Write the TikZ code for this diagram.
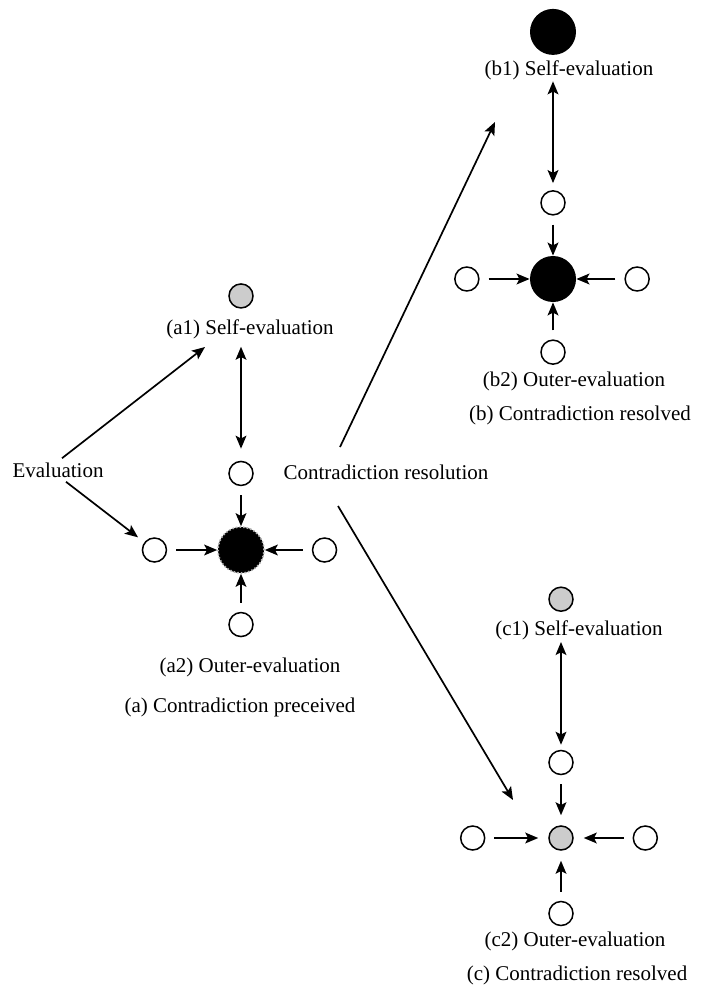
\documentclass[tikz,border=0pt]{standalone}
\usepackage{fontspec}
\setmainfont{Liberation Serif}
\usetikzlibrary{positioning, arrows.meta}

\begin{document}
\begin{tikzpicture}[
  x=0.5pt, y=-0.5pt,
  font=\fontsize{10.5}{12}\selectfont,
  sc/.style={circle, draw, line width=0.75pt, fill=white, minimum size=12pt, inner sep=0pt},
  gc/.style={sc, fill=gray!40},
  bc/.style={circle, fill=black, minimum size=23pt, inner sep=0pt},
  lbl/.style={inner sep=0pt},
  tip/.style={-{Stealth[length=6.5pt, width=5.4pt, inset=1.4pt]}, line width=0.85pt},
  arr/.style={tip, shorten <=4.5pt},
  arr2/.style={{Stealth[length=6.5pt, width=5.4pt, inset=1.4pt]}-{Stealth[length=6.5pt, width=5.4pt, inset=1.4pt]}, line width=0.85pt}
]
\useasboundingbox (0,0) rectangle (707,990);

% (a) contradiction preceived
\node[bc, draw=gray!60, densely dotted, line width=0.8pt] (aC) at (241,550) {};
\node[sc, above=20pt of aC] (aT) {};
\node[sc, left=25pt of aC] (aL) {};
\node[sc, right=23.5pt of aC] (aR) {};
\node[sc, below=19pt of aC] (aB) {};
\node[gc, above=76pt of aT] (aTop) {};
\node[lbl, below=5.5pt of aTop, xshift=4.5pt] (a1lbl) {(a1) Self-evaluation};
\node[lbl, below=10pt of aB, xshift=4.5pt] (a2lbl) {(a2) Outer-evaluation};
\node[lbl, below=10pt of a2lbl, xshift=-5pt] (alab) {(a) Contradiction preceived};

% (b) contradiction resolved
\node[bc] (bC) at (553,279) {};
\node[sc, above=20pt of bC] (bT) {};
\node[sc, left=25pt of bC] (bL) {};
\node[sc, right=24pt of bC] (bR) {};
\node[sc, below=18.5pt of bC] (bB) {};
\node[bc, above=67.4pt of bT] (bTop) {};
\node[lbl, below=2.5pt of bTop, xshift=8pt] (b1lbl) {(b1) Self-evaluation};
\node[lbl, below=3.5pt of bB, xshift=10.5pt] (b2lbl) {(b2) Outer-evaluation};
\node[lbl, below=7pt of b2lbl, xshift=3pt] (blab) {(b) Contradiction resolved};

% (c) contradiction resolved
\node[gc] (cC) at (561,838) {};
\node[sc, above=25pt of cC] (cT) {};
\node[sc, left=31.4pt of cC] (cL) {};
\node[sc, right=29.4pt of cC] (cR) {};
\node[sc, below=25pt of cC] (cB) {};
\node[gc, above=68.9pt of cT] (cTop) {};
\node[lbl, below=4pt of cTop, xshift=9pt] (c1lbl) {(c1) Self-evaluation};
\node[lbl, below=2.5pt of cB, xshift=7pt] (c2lbl) {(c2) Outer-evaluation};
\node[lbl, below=7pt of c2lbl, xshift=1pt] (clab) {(c) Contradiction resolved};

% left and middle texts
\node[inner sep=2pt] (eval) at (58,470) {Evaluation};
\node[inner sep=2pt] (cr) at (386,472) {Contradiction resolution};
\coordinate (aIn) at (205,347);
\coordinate (crUp) at (340,447);
\coordinate (crDn) at (338,506);
\coordinate (bIn) at (495,122);
\coordinate (cIn) at (513,800);

\draw[tip] ([xshift=2pt]eval.north) -- (aIn);
\draw[tip, shorten >=4pt] ([xshift=4pt]eval.south) -- (aL);
\draw[tip] (crUp) -- (bIn);
\draw[tip] (crDn) -- (cIn);

\draw[arr2, shorten <=3.5pt, shorten >=6pt] (a1lbl.south -| aT) -- (aT);
\draw[arr] (aT) -- (aC);
\draw[arr] (aL) -- (aC);
\draw[arr] (aR) -- (aC);
\draw[arr] (aB) -- (aC);

\draw[arr2, shorten <=0.5pt, shorten >=3.5pt] (b1lbl.south -| bT) -- (bT);
\draw[arr] (bT) -- (bC);
\draw[arr] (bL) -- (bC);
\draw[arr] (bR) -- (bC);
\draw[arr] (bB) -- (bC);

\draw[arr2, shorten <=1pt, shorten >=2.5pt] (c1lbl.south -| cT) -- (cT);
\draw[arr, shorten >=5pt] (cT) -- (cC);
\draw[arr, shorten >=5pt] (cL) -- (cC);
\draw[arr, shorten >=5pt] (cR) -- (cC);
\draw[arr, shorten >=5pt] (cB) -- (cC);
\end{tikzpicture}
\end{document}
